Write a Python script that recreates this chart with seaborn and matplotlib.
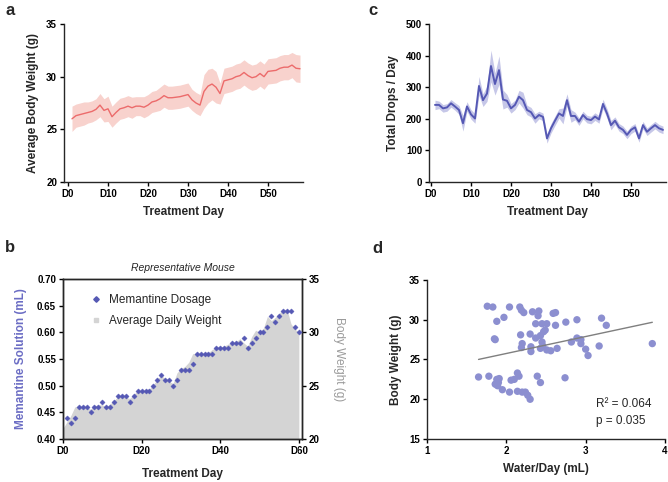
import numpy as np
import pandas as pd
import matplotlib
matplotlib.use("Agg")
import matplotlib.pyplot as plt
from matplotlib.lines import Line2D
import seaborn as sns

# ---- panel a: average body weight per treatment day
days_a = list(range(1, 59))
weight_mean = [26.0, 26.3, 26.4, 26.5, 26.6, 26.7, 26.9, 27.3, 26.8, 26.95,
               26.2, 26.6, 26.95, 27.05, 27.2, 27.05, 27.2, 27.2, 27.1, 27.3,
               27.6, 27.7, 27.9, 28.2, 28.0, 28.0, 28.05, 28.1, 28.2, 28.3,
               27.8, 27.5, 27.3, 28.6, 29.1, 29.3, 29.0, 28.4, 29.6, 29.7,
               29.8, 30.0, 30.1, 30.4, 30.1, 29.9, 30.0, 30.3, 30.0, 30.5,
               30.55, 30.6, 30.8, 30.9, 30.9, 31.1, 30.8, 30.75]
weight_sem = [1.2, 1.1, 1.1, 1.1, 1.0, 1.0, 1.0, 1.1, 1.1, 1.2,
              1.0, 1.0, 1.0, 1.0, 1.0, 1.0, 0.9, 0.9, 1.0, 1.0,
              1.0, 1.0, 1.1, 1.1, 1.1, 1.1, 1.1, 1.1, 1.1, 1.1,
              1.0, 1.0, 1.0, 1.6, 1.6, 1.5, 1.5, 1.0, 1.2, 1.2,
              1.2, 1.2, 1.2, 1.2, 1.2, 1.2, 1.2, 1.2, 1.2, 1.2,
              1.2, 1.2, 1.2, 1.2, 1.2, 1.2, 1.3, 1.3]

# ---- panel c: total drops per day
days_c = list(range(1, 59))
drops_mean = [244, 244, 233, 236, 249, 239, 228, 186, 239, 214,
              201, 304, 259, 280, 367, 310, 354, 261, 257, 233,
              244, 270, 259, 228, 221, 201, 212, 206, 138, 170,
              194, 217, 209, 259, 209, 209, 191, 212, 199, 196,
              207, 198, 247, 217, 180, 194, 173, 165, 149, 165,
              173, 138, 180, 159, 170, 180, 170, 165]
drops_sem = [15, 12, 12, 12, 12, 12, 14, 25, 15, 15,
             15, 30, 20, 25, 50, 35, 45, 30, 20, 15,
             15, 20, 25, 15, 15, 15, 12, 12, 15, 15,
             15, 15, 25, 20, 20, 12, 12, 12, 12, 12,
             12, 12, 15, 15, 15, 12, 12, 12, 12, 12,
             12, 12, 12, 12, 12, 12, 12, 12]

# ---- panel b: representative mouse
days_dose = list(range(1, 61))
dose_ml = [0.44, 0.43, 0.44, 0.46, 0.46, 0.46, 0.45, 0.46, 0.46, 0.47,
           0.46, 0.46, 0.47, 0.48, 0.48, 0.48, 0.47, 0.48, 0.49, 0.49,
           0.49, 0.49, 0.50, 0.51, 0.52, 0.51, 0.51, 0.50, 0.51, 0.53,
           0.53, 0.53, 0.54, 0.56, 0.56, 0.56, 0.56, 0.56, 0.57, 0.57,
           0.57, 0.57, 0.58, 0.58, 0.58, 0.59, 0.57, 0.58, 0.59, 0.60,
           0.60, 0.61, 0.63, 0.62, 0.63, 0.64, 0.64, 0.64, 0.61, 0.60]
days_w = list(range(0, 61))
daily_weight = [21.0, 21.6, 22.2, 23.0, 23.1, 23.0, 22.9, 22.8, 23.1, 23.2,
                23.2, 23.0, 23.3, 23.6, 24.0, 24.0, 23.9, 23.8, 24.2, 24.5,
                24.5, 24.6, 24.7, 25.1, 25.6, 26.0, 25.6, 25.4, 25.2, 26.2,
                26.6, 26.8, 27.2, 28.0, 28.0, 28.0, 28.0, 28.1, 28.4, 28.6,
                28.6, 28.7, 28.9, 29.0, 29.1, 29.4, 29.0, 28.7, 29.6, 30.2,
                30.0, 30.4, 31.5, 31.1, 31.4, 31.8, 32.1, 32.1, 30.8, 30.3,
                30.0]

# ---- panel d: body weight vs water intake
water_ml = [1.76, 1.83, 1.88, 1.97, 1.85, 1.86, 2.04, 2.17, 2.19, 2.22,
            2.33, 2.41, 2.40, 2.37, 2.45, 2.51, 2.59, 2.62, 2.62, 2.75,
            2.89, 3.20, 3.26,
            2.18, 2.30, 2.37, 2.43, 2.47, 2.49, 2.20, 2.19, 2.31, 2.31,
            2.45, 2.46, 2.43, 2.51, 2.56, 2.64, 2.82, 2.89, 2.94, 2.94,
            3.00, 3.03, 3.17, 3.84,
            1.65, 1.78, 1.88, 1.91, 1.86, 1.89, 1.90, 1.95, 2.04, 2.06,
            2.10, 2.14, 2.16, 2.14, 2.20, 2.24, 2.27, 2.30, 2.39, 2.43,
            2.74]
body_weight = [31.7, 31.6, 29.8, 30.3, 27.6, 27.5, 31.6, 31.6, 31.2, 30.9,
               31.0, 31.1, 30.5, 29.5, 29.5, 29.5, 30.8, 30.9, 29.3, 29.7,
               30.0, 30.2, 29.3,
               28.1, 28.2, 27.7, 28.0, 28.5, 28.7, 27.0, 26.5, 26.6, 26.0,
               27.2, 26.7, 26.4, 26.2, 26.1, 26.4, 27.2, 27.7, 27.5, 27.0,
               26.3, 25.5, 26.7, 27.0,
               22.8, 22.9, 22.5, 22.6, 21.9, 21.7, 22.1, 21.2, 20.9, 22.4,
               22.5, 23.3, 22.9, 21.0, 20.9, 20.9, 20.5, 20.0, 22.9, 22.1,
               22.7]

day_ticks_a = [0, 10, 20, 30, 40, 50]
day_labels_a = ["D0", "D10", "D20", "D30", "D40", "D50"]
day_ticks_b = [0, 20, 40, 60]
day_labels_b = ["D0", "D20", "D40", "D60"]

sns.set_style("ticks")
plt.rcParams["font.family"] = ["Liberation Sans", "DejaVu Sans"]
plt.rcParams["axes.linewidth"] = 1.0
plt.rcParams["xtick.major.width"] = 1.0
plt.rcParams["ytick.major.width"] = 1.0
plt.rcParams["xtick.major.size"] = 3
plt.rcParams["ytick.major.size"] = 3

red = "#EC6B6B"
red_band = "#F8D2CD"
blue = "#5558B4"
blue_band = "#C6C7E8"
dot_d = "#8C8FD0"

fig = plt.figure(figsize=(6.68, 4.82), dpi=100)
ax_a = fig.add_axes([0.0958, 0.6224, 0.3578, 0.3278])
ax_c = fig.add_axes([0.6422, 0.6224, 0.3548, 0.3278])
ax_b = fig.add_axes([0.0943, 0.0892, 0.3578, 0.3320])
ax_d = fig.add_axes([0.6392, 0.0892, 0.3563, 0.3299])

label_font = dict(fontsize=8.5, fontweight="bold")


def style_ticks(ax):
    for lab in ax.get_xticklabels() + ax.get_yticklabels():
        lab.set_fontweight("bold")
        lab.set_fontsize(7)
    ax.tick_params(colors="black", pad=2)


# panel a
df_a = pd.DataFrame({"day": days_a, "mean": weight_mean, "sem": weight_sem})
ax_a.fill_between(df_a["day"], df_a["mean"] - df_a["sem"], df_a["mean"] + df_a["sem"],
                  color=red_band, lw=0)
sns.lineplot(data=df_a, x="day", y="mean", ax=ax_a, color=red, lw=1.0)
ax_a.set_xlim(-1, 58.75)
ax_a.set_ylim(20, 35)
ax_a.set_yticks([20, 25, 30, 35])
ax_a.set_xticks(day_ticks_a)
ax_a.set_xticklabels(day_labels_a)
ax_a.set_xlabel("Treatment Day", **label_font, labelpad=5)
ax_a.set_ylabel("Average Body Weight (g)", **label_font, labelpad=5)
sns.despine(ax=ax_a)
style_ticks(ax_a)

# panel c
df_c = pd.DataFrame({"day": days_c, "mean": drops_mean, "sem": drops_sem})
ax_c.fill_between(df_c["day"], df_c["mean"] - df_c["sem"], df_c["mean"] + df_c["sem"],
                  color=blue_band, lw=0)
sns.lineplot(data=df_c, x="day", y="mean", ax=ax_c, color=blue, lw=1.4)
ax_c.set_xlim(-0.5, 58.75)
ax_c.set_ylim(0, 500)
ax_c.set_yticks([0, 100, 200, 300, 400, 500])
ax_c.set_xticks(day_ticks_a)
ax_c.set_xticklabels(day_labels_a)
ax_c.set_xlabel("Treatment Day", **label_font, labelpad=5)
ax_c.set_ylabel("Total Drops / Day", **label_font, labelpad=5)
sns.despine(ax=ax_c)
style_ticks(ax_c)

# panel b
ax_b2 = ax_b.twinx()
ax_b2.fill_between(days_w, daily_weight, 20, color="#D4D4D4", lw=0)
ax_b2.set_ylim(20, 35)
ax_b2.set_yticks([20, 25, 30, 35])
ax_b2.set_ylabel("Body Weight (g)", fontsize=8.5, color="#9A9A9A",
                 rotation=270, labelpad=18)
ax_b.set_zorder(ax_b2.get_zorder() + 1)
ax_b.patch.set_visible(False)
df_b = pd.DataFrame({"day": days_dose, "dose": dose_ml})
sns.scatterplot(data=df_b, x="day", y="dose", ax=ax_b, marker="D", s=7,
                color=blue, edgecolor=blue, linewidth=0.3, zorder=3)
ax_b.set_xlim(0, 60.8)
ax_b.set_ylim(0.40, 0.70)
ax_b.set_yticks([0.40, 0.45, 0.50, 0.55, 0.60, 0.65, 0.70])
ax_b.set_yticklabels(["0.40", "0.45", "0.50", "0.55", "0.60", "0.65", "0.70"])
ax_b.set_xticks(day_ticks_b)
ax_b.set_xticklabels(day_labels_b)
ax_b.set_xlabel("Treatment Day", **label_font, labelpad=9)
ax_b.set_ylabel("Memantine Solution (mL)", fontsize=8.5, fontweight="bold",
                color="#6B6DC4", labelpad=7)
ax_b.set_title("Representative Mouse", fontsize=7.5, style="italic", pad=6)
handles = [Line2D([], [], ls="none", marker="D", ms=2.8, color=blue),
           Line2D([], [], ls="none", marker="s", ms=3.5, color="#D4D4D4")]
ax_b.legend(handles, ["Memantine Dosage", "Average Daily Weight"], loc="upper left",
            bbox_to_anchor=(0.07, 0.97), frameon=False, fontsize=8.5,
            handletextpad=0.6, labelspacing=0.7, handlelength=1.0)
style_ticks(ax_b)
style_ticks(ax_b2)
for sp in ax_b2.spines.values():
    sp.set_color("black")

# panel d
df_d = pd.DataFrame({"water": water_ml, "weight": body_weight})
sns.scatterplot(data=df_d, x="water", y="weight", ax=ax_d, s=28, color=dot_d,
                edgecolor="none", linewidth=0)
sns.regplot(data=df_d, x="water", y="weight", ax=ax_d, scatter=False, ci=None,
            line_kws=dict(color="#7F7F7F", lw=1.0))
ax_d.set_xlim(1, 4)
ax_d.set_ylim(15, 35)
ax_d.set_xticks([1, 2, 3, 4])
ax_d.set_yticks([15, 20, 25, 30, 35])
ax_d.set_xlabel("Water/Day (mL)", **label_font, labelpad=5)
ax_d.set_ylabel("Body Weight (g)", **label_font, labelpad=5)
ax_d.text(3.13, 19.0, "R\u00b2 = 0.064", fontsize=8.5)
ax_d.text(3.13, 16.9, "p = 0.035", fontsize=8.5)
sns.despine(ax=ax_d)
style_ticks(ax_d)

# panel letters
for letter, x, y in [("a", 0.008, 0.978), ("c", 0.552, 0.978),
                     ("b", 0.008, 0.487), ("d", 0.557, 0.485)]:
    fig.text(x, y, letter, fontsize=12, fontweight="bold", va="center")

fig.savefig("out.png", dpi=100)
